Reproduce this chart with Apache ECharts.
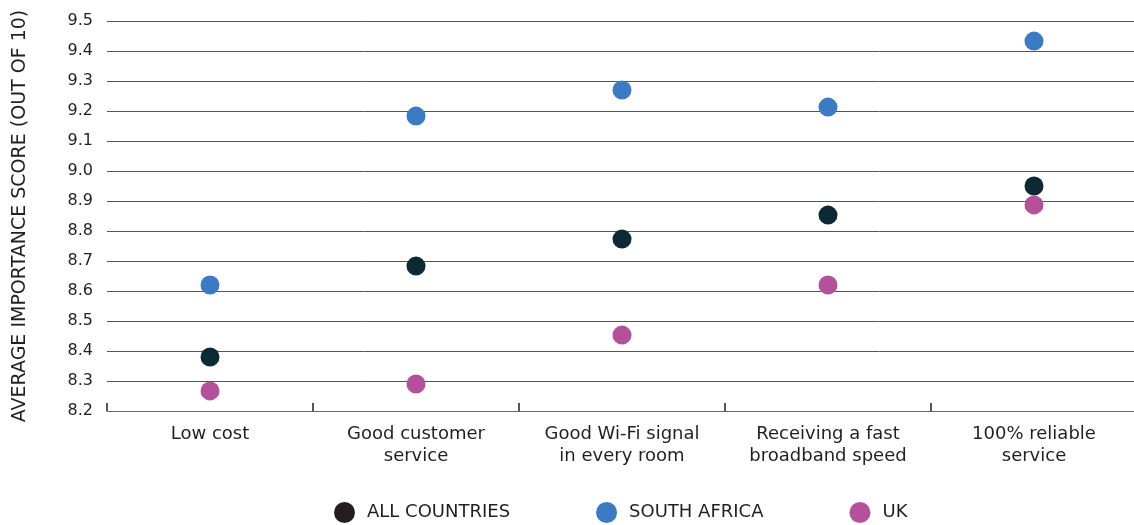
<!DOCTYPE html>
<html>
<head>
<meta charset="utf-8">
<script src="https://cdn.jsdelivr.net/npm/echarts@6/dist/echarts.min.js"></script>
<style>html,body{margin:0;padding:0;background:#fff;overflow:hidden}#c{width:1137px;height:525px}</style>
</head>
<body>
<div id="c"></div>
<script>
const categories = ['Low cost', 'Good customer\nservice', 'Good Wi-Fi signal\nin every room', 'Receiving a fast\nbroadband speed', '100% reliable\nservice'];
const allCountries = [8.38, 8.683, 8.773, 8.853, 8.95];
const southAfrica = [8.62, 9.183, 9.27, 9.213, 9.433];
const uk = [8.267, 8.29, 8.453, 8.62, 8.887];
const seriesNames = ['ALL COUNTRIES', 'SOUTH AFRICA', 'UK'];

const font = 'DejaVu Sans';
const chart = echarts.init(document.getElementById('c'), null, {renderer: 'canvas'});
const mk = (name, data, color) => ({
  name, type: 'scatter', data, symbol: 'circle', symbolSize: 19,
  itemStyle: {color, opacity: 1}
});
chart.setOption({
  animation: false,
  textStyle: {fontFamily: font},
  grid: {left: 107, right: 0, top: 21, height: 390, containLabel: false},
  legend: {
    top: 497, left: 329, itemWidth: 21, itemHeight: 21, itemGap: 86,
    icon: 'circle',
    textStyle: {fontFamily: font, fontSize: 18, color: '#231f20', padding: [0, 0, 0, 7]},
    data: [
      {name: seriesNames[0], itemStyle: {color: '#231f20'}},
      {name: seriesNames[1], itemStyle: {color: '#3a7bc4'}},
      {name: seriesNames[2], itemStyle: {color: '#b5519b'}}
    ]
  },
  xAxis: {
    type: 'category', data: categories, boundaryGap: true,
    axisLine: {show: true, lineStyle: {color: '#666', width: 1}},
    axisTick: {show: true, interval: 0, inside: true, length: 8, lineStyle: {color: '#555', width: 2}},
    axisLabel: {fontFamily: font, fontSize: 18, color: '#231f20', margin: 12, lineHeight: 22, interval: 0},
    splitLine: {show: false}
  },
  yAxis: {
    type: 'value', min: 8.2, max: 9.5, interval: 0.1,
    name: 'AVERAGE IMPORTANCE SCORE (OUT OF 10)', nameLocation: 'middle', nameGap: 77,
    nameRotate: 90,
    nameTextStyle: {fontFamily: font, fontSize: 19, color: '#231f20'},
    axisLine: {show: false}, axisTick: {show: false},
    axisLabel: {fontFamily: font, fontSize: 16, color: '#231f20', margin: 14,
      formatter: v => v.toFixed(1)},
    splitLine: {lineStyle: {color: '#555', width: 1}}
  },
  series: [
    mk(seriesNames[0], allCountries, '#0b2a33'),
    mk(seriesNames[1], southAfrica, '#3a7bc4'),
    mk(seriesNames[2], uk, '#b5519b')
  ]
});
</script>
</body>
</html>
